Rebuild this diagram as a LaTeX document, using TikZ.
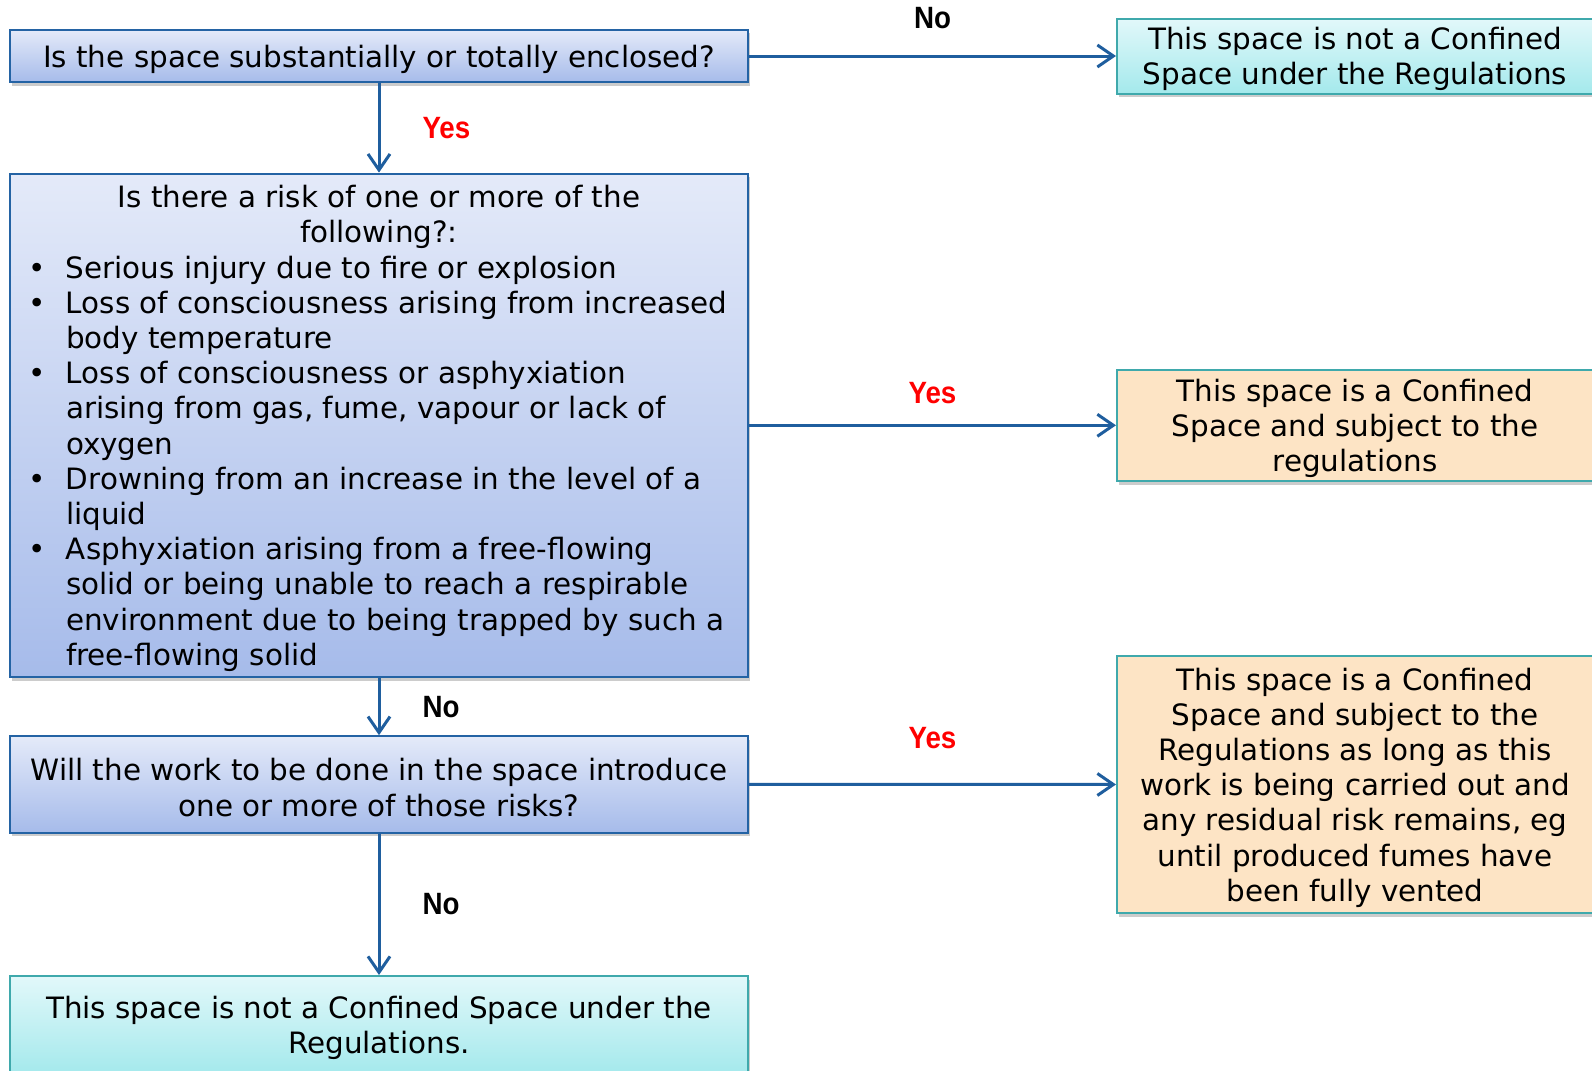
\documentclass[tikz,border=0pt]{standalone}
\usepackage{fontspec}
\setmainfont{DejaVu Sans}
\newfontfamily\lblfont[FakeStretch=0.9]{Liberation Sans}
\usepackage{xcolor}
\usepackage{tikz}
\usetikzlibrary{arrows.meta, shadows}

\definecolor{qtop}{HTML}{E4EAF9}
\definecolor{qbot}{HTML}{A6BBEA}
\definecolor{qline}{HTML}{2463A4}
\definecolor{ntop}{HTML}{E2F8FA}
\definecolor{nbot}{HTML}{A4E9EC}
\definecolor{tline}{HTML}{3FA9AC}
\definecolor{cfill}{HTML}{FDE4C5}
\definecolor{flowc}{HTML}{1F5E9E}
\definecolor{yesred}{HTML}{FF0000}

\newcommand{\fls}{\rule{0pt}{14.2pt}}
\newcommand{\bul}{\makebox[19pt][l]{\textbullet}}
\newcommand{\bcont}{\hspace*{19pt}}
\newcommand{\rline}[1]{\makebox[351pt][l]{#1}}

\begin{document}
\begin{tikzpicture}[x=0.5pt, y=-0.5pt,
  box/.style={draw, line width=1pt, minimum width=369pt, inner xsep=2pt, inner ysep=0.5pt, align=center,
    font=\fontsize{14.7pt}{17.6pt}\selectfont,
    drop shadow={shadow xshift=1.2pt, shadow yshift=-1.8pt, opacity=0.4}},
  qbox/.style={box, draw=qline, top color=qtop, bottom color=qbot},
  nbox/.style={box, draw=tline, top color=ntop, bottom color=nbot},
  cbox/.style={box, draw=tline, fill=cfill, minimum width=238pt},
  flow/.style={draw=flowc, line width=1.5pt, -{Straight Barb[length=8pt, width=11pt]}},
  yes/.style={font=\lblfont\bfseries\fontsize{15.4pt}{15.4pt}\selectfont, text=yesred, inner sep=0pt},
  no/.style={yes, text=black}]
  \useasboundingbox (0,0) rectangle (1592,1071);

  \node[qbox, minimum height=26.25pt] (Q1) at (379,56) {\fls Is the space substantially or totally enclosed?};
  \node[nbox, minimum width=238pt, minimum height=37.5pt] (R1) at (1355,56) {\fls This space is not a Confined\\Space under the Regulations};
  \node[qbox, minimum height=251.7pt] (Q2) at (379,425.3) {\fls Is there a risk of one or more of the\\following?:\\
    \rline{\bul Serious injury due to fire or explosion}\\
    \rline{\bul Loss of consciousness arising from increased}\\
    \rline{\bcont body temperature}\\
    \rline{\bul Loss of consciousness or asphyxiation}\\
    \rline{\bcont arising from gas, fume, vapour or lack of}\\
    \rline{\bcont oxygen}\\
    \rline{\bul Drowning from an increase in the level of a}\\
    \rline{\bcont liquid}\\
    \rline{\bul Asphyxiation arising from a free-flowing}\\
    \rline{\bcont solid or being unable to reach a respirable}\\
    \rline{\bcont environment due to being trapped by such a}\\
    \rline{\bcont free-flowing solid}};
  \node[cbox, minimum height=55.7pt] (R2) at (1355,425.3) {\fls This space is a Confined\\Space and subject to the\\regulations};
  \node[qbox, minimum height=48.2pt] (Q3) at (379,784.4) {\fls Will the work to be done in the space introduce\\one or more of those risks?};
  \node[cbox, minimum height=128.5pt] (R3) at (1355,784.5) {\fls This space is a Confined\\Space and subject to the\\Regulations as long as this\\work is being carried out and\\any residual risk remains, eg\\until produced fumes have\\been fully vented};
  \node[nbox, minimum height=49pt] (R4) at (379,1025) {\fls This space is not a Confined Space under the\\Regulations.};

  \draw[flow] (Q1) -- (R1) node[no, midway, yshift=19pt] {No};
  \draw[flow] (Q1) -- (Q2) node[yes, midway, right=21pt] {Yes};
  \draw[flow] (Q2) -- (R2) node[yes, midway, yshift=16pt] {Yes};
  \draw[flow] (Q2) -- (Q3) node[no, midway, right=21pt] {No};
  \draw[flow] (Q3) -- (R3) node[yes, midway, yshift=23pt] {Yes};
  \draw[flow] (Q3) -- (R4) node[no, midway, right=21pt] {No};
\end{tikzpicture}
\end{document}
